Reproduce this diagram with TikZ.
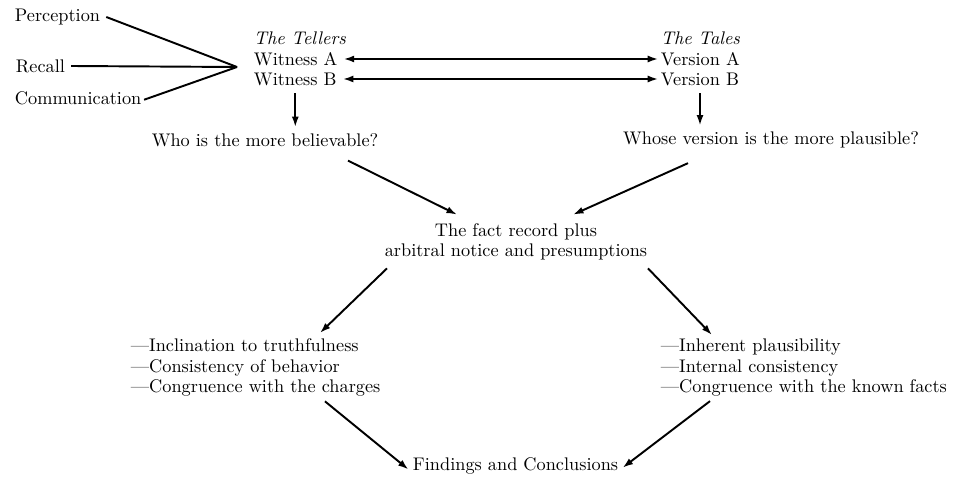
\documentclass[tikz,border=0pt]{standalone}
\usetikzlibrary{arrows.meta}
\begin{document}
\begin{tikzpicture}[x=0.02cm, y=-0.02cm, line width=1.1pt,
    txt/.style={inner sep=0pt, font=\fontsize{10.4}{11.6}\selectfont},
    arr/.style={-{Latex[length=6pt,width=4pt]}},
    darr/.style={{Latex[length=6pt,width=4pt]}-{Latex[length=6pt,width=4pt]}}]
\useasboundingbox (0,0) rectangle (971,496);
\node[txt, anchor=west] (perc) at (14,17) {Perception};
\node[txt, anchor=west] (recall) at (15,66) {Recall};
\node[txt, anchor=west] (comm) at (14,98) {Communication};
\coordinate (conv) at (237,67);
\draw ([xshift=3pt]perc.east) -- (conv);
\draw ([xshift=3pt]recall.east) -- (conv);
\draw ([xshift=1pt,yshift=-1pt]comm.east) -- (conv);
\node[txt, anchor=west] (tellers) at (253,38) {\itshape The Tellers};
\node[txt, anchor=west] (witA) at (253,59) {Witness A};
\node[txt, anchor=west] (witB) at (253,79) {Witness B};
\node[txt, anchor=west] (tales) at (660,38) {\itshape The Tales};
\node[txt, anchor=west] (verA) at (660,59) {Version A};
\node[txt, anchor=west] (verB) at (660,79) {Version B};
\draw[darr] ([xshift=3pt]witA.east) -- ([xshift=-1pt]verA.west);
\draw[darr] ([xshift=3pt]witB.east) -- ([xshift=-1pt]verB.west);
\node[txt] (who) at (265,140) {Who is the more believable?};
\node[txt] (whose) at (771,140) {Whose version is the more plausible?};
\draw[arr, shorten <=4pt, shorten >=3pt] (witB.south) -- (witB.south |- who.north);
\draw[arr, shorten <=4pt, shorten >=3pt] (verB.south) -- (verB.south |- whose.north);
\node[txt, align=center] (fact) at (516,242) {The fact record plus\\arbitral notice and presumptions};
\draw[arr] ([xshift=1.66cm,yshift=-0.26cm]who.south) -- ([xshift=-1.18cm,yshift=0.16cm]fact.north);
\draw[arr] ([xshift=-1.66cm,yshift=-0.28cm]whose.south) -- ([xshift=1.14cm,yshift=0.16cm]fact.north);
\node[txt, align=left, anchor=north west] (tests) at (130,338) {---Inclination to truthfulness\\---Consistency of behavior\\---Congruence with the charges};
\node[txt, align=left, anchor=north west] (checks) at (660,338) {---Inherent plausibility\\---Internal consistency\\---Congruence with the known facts};
\draw[arr] ([xshift=-2.58cm,yshift=-0.14cm]fact.south) -- ([xshift=3.8cm,yshift=0.1cm]tests.north west);
\draw[arr] ([xshift=2.64cm,yshift=-0.14cm]fact.south) -- ([xshift=1.04cm,yshift=0.06cm]checks.north west);
\node[txt, anchor=west] (find) at (412,466) {Findings and Conclusions};
\draw[arr] ([xshift=3.9cm,yshift=-0.08cm]tests.south west) -- ([xshift=-2pt,yshift=-2pt]find.west);
\draw[arr] ([xshift=1cm,yshift=-0.08cm]checks.south west) -- ([xshift=2pt,yshift=-1pt]find.east);
\end{tikzpicture}
\end{document}
